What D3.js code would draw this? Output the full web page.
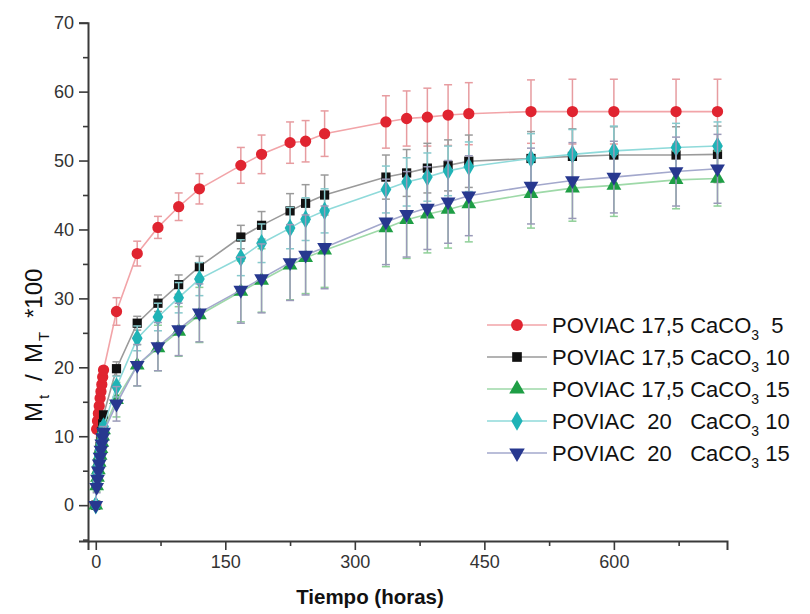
<!DOCTYPE html>
<html>
<head>
<meta charset="utf-8">
<script src="https://cdn.jsdelivr.net/npm/d3@7/dist/d3.min.js"></script>
<style>
html,body{margin:0;padding:0;background:#fff;}
text{font-family:"Liberation Sans",Arial,Helvetica,sans-serif;}
</style>
</head>
<body>
<svg id="chart" width="810" height="614"></svg>
<script>
// ---- data ----
const times = [0, 1, 2, 3, 4, 5, 6, 7, 8, 9, 24, 48, 72, 96, 120, 168, 192, 225, 243, 265, 336, 360, 384, 408, 432, 504, 552, 600, 672, 720];

const seriesNames = ["POVIAC 17,5 CaCO|3|  5", "POVIAC 17,5 CaCO|3| 10", "POVIAC 17,5 CaCO|3| 15", "POVIAC  20   CaCO|3| 10", "POVIAC  20   CaCO|3| 15"];

const red   = [0, 11.0, 12.2, 13.3, 14.4, 15.5, 16.5, 17.5, 18.6, 19.6, 28.1, 36.5, 40.3, 43.3, 45.9, 49.3, 50.9, 52.6, 52.8, 53.9, 55.6, 56.1, 56.3, 56.6, 56.8, 57.1, 57.1, 57.1, 57.1, 57.1];
const black = [0, 3.5, 4.9, 6.2, 7.4, 8.5, 9.6, 10.7, 11.8, 13.1, 19.8, 26.4, 29.3, 32.0, 34.6, 38.9, 40.6, 42.7, 43.8, 45.0, 47.6, 48.2, 48.9, 49.3, 49.9, 50.3, 50.6, 50.8, 50.8, 50.9];
const green = [0, 2.8, 4.0, 5.1, 6.2, 7.2, 8.2, 9.1, 10.0, 10.9, 15.3, 20.3, 22.8, 25.2, 27.6, 31.0, 32.6, 34.8, 35.9, 37.0, 40.2, 41.4, 42.2, 42.9, 43.7, 45.2, 46.0, 46.4, 47.2, 47.4];
const cyan  = [0, 3.1, 4.6, 5.8, 7.0, 8.0, 9.0, 10.0, 10.8, 11.4, 17.2, 24.2, 27.3, 30.1, 32.8, 35.9, 38.0, 40.2, 41.5, 42.7, 45.8, 46.9, 47.6, 48.5, 49.1, 50.3, 50.9, 51.4, 51.9, 52.1];
const blue  = [0, 2.6, 3.8, 5.0, 6.0, 7.0, 8.0, 8.9, 9.8, 10.6, 14.7, 20.3, 23.0, 25.5, 27.9, 31.2, 32.9, 35.2, 36.3, 37.4, 41.1, 42.2, 43.1, 44.0, 44.9, 46.3, 47.1, 47.6, 48.4, 48.8];

const redErr   = [0, 0.5, 0.5, 0.5, 0.5, 0.5, 0.5, 0.5, 0.5, 0.5, 2.0, 1.8, 1.6, 2.0, 2.2, 2.6, 2.8, 3.0, 3.0, 3.3, 3.8, 4.0, 4.2, 4.4, 4.5, 4.6, 4.7, 4.7, 4.7, 4.7];
const blackErr = [0, 0.5, 0.5, 0.5, 0.5, 0.5, 0.5, 0.5, 0.5, 0.5, 1.0, 1.0, 1.2, 1.4, 1.5, 1.7, 2.0, 2.5, 2.7, 2.9, 3.2, 3.4, 3.6, 3.7, 3.8, 3.9, 4.0, 4.1, 4.1, 4.1];
const greenErr = [0, 0.8, 0.8, 0.8, 0.8, 0.8, 0.8, 0.8, 0.8, 0.8, 2.5, 3.0, 3.3, 3.6, 4.0, 4.4, 4.6, 5.0, 5.2, 5.4, 5.6, 5.6, 5.6, 5.6, 5.5, 5.0, 4.8, 4.5, 4.2, 4.0];
const cyanErr  = [0, 0.5, 0.5, 0.5, 0.5, 0.5, 0.5, 0.5, 0.5, 0.5, 1.5, 1.8, 2.0, 2.2, 2.4, 2.6, 2.8, 3.0, 3.1, 3.2, 3.4, 3.5, 3.5, 3.6, 3.6, 3.6, 3.6, 3.6, 3.5, 3.5];
const blueErr  = [0, 0.8, 0.8, 0.8, 0.8, 0.8, 0.8, 0.8, 0.8, 0.8, 2.5, 3.0, 3.5, 3.8, 4.2, 4.8, 5.0, 5.5, 5.8, 6.0, 6.2, 6.2, 6.0, 6.0, 5.8, 5.5, 5.5, 5.2, 5.0, 5.0];

const xMajorTicks = [0, 150, 300, 450, 600];
const xMinorTicks = [75, 225, 375, 525, 675];
const yMajorTicks = [0, 10, 20, 30, 40, 50, 60, 70];
const yMinorTicks = [-5, 5, 15, 25, 35, 45, 55, 65];

// ---- styles ----
const values = [red, black, green, cyan, blue];
const errs = [redErr, blackErr, greenErr, cyanErr, blueErr];
const markerColor = ["#e02430", "#111111", "#1e9e45", "#1fb3b6", "#27388f"];
const lineColor   = ["#f2a4a8", "#9a9a9a", "#9ed9a8", "#8fdada", "#a3a8cc"];
const errColor    = ["#e79ca0", "#9a9a9a", "#8fcf98", "#86c9cc", "#9a9ab8"];
const shapes = [d3.symbolCircle, d3.symbolSquare, d3.symbolTriangle, d3.symbolDiamond, d3.symbolTriangle];
const sizes = [100, 85, 95, 100, 95];
const rot = [0, 0, 0, 0, 180];

const svg = d3.select("#chart");
const x = d3.scaleLinear().domain([-9, 731]).range([88, 727]);
const y = d3.scaleLinear().domain([-5.2, 70]).range([541, 22.7]);

// axes
const axisColor = "#3a3a3a";
const xAxis = svg.append("g").attr("transform", "translate(0,541)")
  .call(d3.axisBottom(x).tickValues(xMajorTicks).tickSize(9).tickPadding(5).tickFormat(d3.format("d")));
const xMinor = svg.append("g").attr("transform", "translate(0,541)")
  .call(d3.axisBottom(x).tickValues(xMinorTicks).tickSize(5).tickFormat(""));
const yAxis = svg.append("g").attr("transform", "translate(88,0)")
  .call(d3.axisLeft(y).tickValues(yMajorTicks).tickSize(9).tickPadding(5).tickFormat(d3.format("d")));
const yMinor = svg.append("g").attr("transform", "translate(88,0)")
  .call(d3.axisLeft(y).tickValues(yMinorTicks).tickSize(5).tickFormat(""));
[xAxis, xMinor, yAxis, yMinor].forEach(g => {
  g.selectAll("path.domain").attr("stroke", axisColor).attr("stroke-width", 2);
  g.selectAll(".tick line").attr("stroke", axisColor).attr("stroke-width", 1.6);
  g.selectAll(".tick text").attr("fill", "#333").style("font-size", "18px")
    .style("font-family", "'Liberation Sans',Arial,sans-serif");
});
xMinor.select("path.domain").remove();
yMinor.select("path.domain").remove();

// series
const plot = svg.append("g");
values.forEach((vals, si) => {
  const pts = times.map((t, i) => ({t, v: vals[i], e: errs[si][i]}));
  const g = plot.append("g");
  g.append("path").datum(pts)
    .attr("fill", "none").attr("stroke", lineColor[si]).attr("stroke-width", 1.6)
    .attr("d", d3.line().x(d => x(d.t)).y(d => y(d.v)));
  const eb = g.selectAll("g.eb").data(pts.filter(d => d.e > 0)).join("g");
  eb.append("line").attr("x1", d => x(d.t)).attr("x2", d => x(d.t))
    .attr("y1", d => y(d.v - d.e)).attr("y2", d => y(d.v + d.e))
    .attr("stroke", errColor[si]).attr("stroke-width", 1.5);
  [-1, 1].forEach(s => {
    eb.append("line").attr("x1", d => x(d.t) - 4).attr("x2", d => x(d.t) + 4)
      .attr("y1", d => y(d.v + s * d.e)).attr("y2", d => y(d.v + s * d.e))
      .attr("stroke", errColor[si]).attr("stroke-width", 1.5);
  });
  g.selectAll("path.m").data(pts).join("path")
    .attr("d", d3.symbol().type(shapes[si]).size(sizes[si]))
    .attr("transform", d => `translate(${x(d.t)},${y(d.v)}) rotate(${rot[si]})`)
    .attr("fill", markerColor[si]);
});

// axis titles
svg.append("text").attr("x", 370).attr("y", 604).attr("text-anchor", "middle")
  .style("font-size", "20.5px").style("font-weight", "bold").attr("fill", "#111")
  .text("Tiempo (horas)");

// y title: pieces laid along the rotated baseline (position = distance up from y=0 origin)
const ytitle = [
  {txt: "M", pos: 422, size: 24, dy: 0},
  {txt: "t", pos: 399, size: 15, dy: 7},
  {txt: "/", pos: 381, size: 24, dy: 0},
  {txt: "M", pos: 363, size: 24, dy: 0},
  {txt: "T", pos: 341, size: 15, dy: 7},
  {txt: "*100", pos: 318, size: 24, dy: 0}
];
const ytg = svg.append("g").attr("transform", "translate(42,0) rotate(-90)");
ytg.selectAll("text").data(ytitle).join("text")
  .attr("x", d => -d.pos).attr("y", d => d.dy)
  .style("font-size", d => d.size + "px").attr("fill", "#111")
  .text(d => d.txt);

// legend
const leg = svg.append("g");
seriesNames.forEach((name, i) => {
  const cy = 325 + i * 32;
  leg.append("line").attr("x1", 487).attr("x2", 547).attr("y1", cy).attr("y2", cy)
    .attr("stroke", lineColor[i]).attr("stroke-width", 1.6);
  leg.append("path").attr("d", d3.symbol().type(shapes[i]).size(sizes[i] * 1.1))
    .attr("transform", `translate(517,${cy}) rotate(${rot[i]})`).attr("fill", markerColor[i]);
  const parts = name.split("|");
  const t = leg.append("text").attr("x", 552).attr("y", cy + 8).style("font-size", "22px")
    .attr("fill", "#111").attr("xml:space", "preserve").style("white-space", "pre");
  t.append("tspan").text(parts[0]);
  t.append("tspan").attr("dy", 7).style("font-size", "14px").text(parts[1]);
  t.append("tspan").attr("dy", -7).text(parts[2]);
});
</script>
</body>
</html>
